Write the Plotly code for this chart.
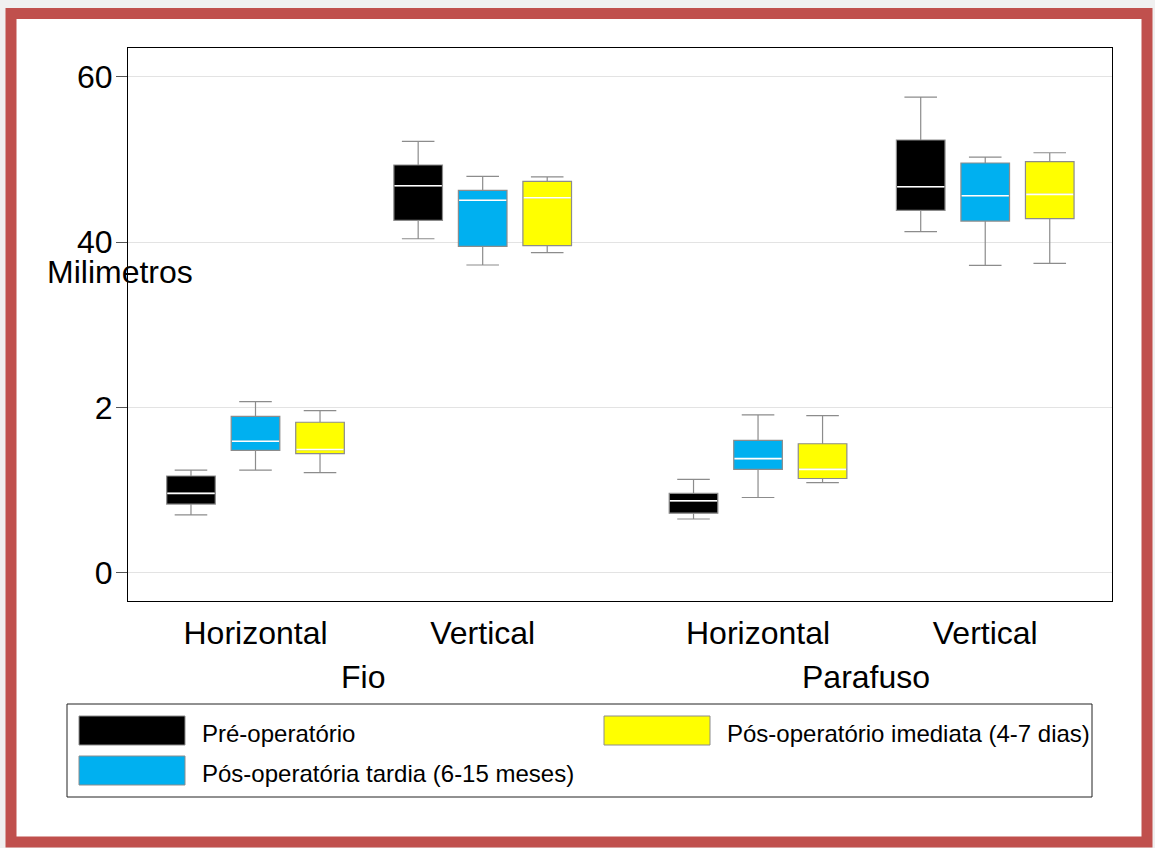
import plotly.graph_objects as go

# ---------------- data ----------------
categories = ["Horizontal", "Vertical", "Horizontal", "Vertical"]
groups = ["Fio", "Parafuso"]
cat_positions = [1.0, 2.0, 3.212, 4.212]
group_positions = [1.5, 3.712]

series_names = ["Pré-operatório",
                "Pós-operatória tardia (6-15 meses)",
                "Pós-operatório imediata (4-7 dias)"]
series_colors = ["#000000", "#00B0F0", "#FFFF00"]

# values in mm, one per category (Fio H, Fio V, Parafuso H, Parafuso V)
pre_lower = [0.70, 40.40, 0.65, 41.25]
pre_q1 = [0.83, 42.63, 0.72, 43.84]
pre_median = [0.96, 46.81, 0.87, 46.69]
pre_q3 = [1.17, 49.32, 0.96, 52.34]
pre_upper = [1.24, 52.18, 1.13, 57.54]

late_lower = [1.24, 37.22, 0.91, 37.18]
late_q1 = [1.48, 39.48, 1.25, 42.54]
late_median = [1.59, 45.05, 1.38, 45.60]
late_q3 = [1.89, 46.26, 1.60, 49.56]
late_upper = [2.07, 47.95, 1.91, 50.28]

imm_lower = [1.21, 38.71, 1.09, 37.43]
imm_q1 = [1.44, 39.56, 1.14, 42.82]
imm_median = [1.49, 45.36, 1.25, 45.77]
imm_q3 = [1.82, 47.34, 1.56, 49.72]
imm_upper = [1.96, 47.87, 1.90, 50.80]

# vertical measures are drawn at 1/10 scale (axis labelled 40, 60)
cat_scale = [1, 10, 1, 10]
y_tickvals = [0, 2, 4, 6]
y_ticktext = ["0", "2", "40", "60"]
y_title = "Milimetros"

series_stats = [
    (pre_lower, pre_q1, pre_median, pre_q3, pre_upper),
    (late_lower, late_q1, late_median, late_q3, late_upper),
    (imm_lower, imm_q1, imm_median, imm_q3, imm_upper),
]

# ---------------- layout constants ----------------
W, H = 1155, 848
PL, PR, PT, PB = 128, 1112, 48, 601
FONT = "Arial, Liberation Sans, sans-serif"
offsets = [-0.284, 0.0, 0.284]
box_width = 0.214


def px(xp):
    return (xp - PL) / (PR - PL)


def py(yp):
    return (PB - yp) / (PB - PT)


def scaled(vals):
    return [v / s for v, s in zip(vals, cat_scale)]


fig = go.Figure()

for i, (stats, color) in enumerate(zip(series_stats, series_colors)):
    lo, q1, med, q3, up = stats
    xs = [p + offsets[i] for p in cat_positions]
    fig.add_trace(go.Box(
        x=xs, q1=scaled(q1), median=scaled(med), q3=scaled(q3),
        lowerfence=scaled(lo), upperfence=scaled(up),
        width=box_width, whiskerwidth=0.67,
        fillcolor=color, line=dict(color="#8c8c8c", width=1.2),
        name=series_names[i], showlegend=False, hoverinfo="skip",
    ))
    # white median line
    fig.add_trace(go.Box(
        x=xs, q1=scaled(med), median=scaled(med), q3=scaled(med),
        lowerfence=scaled(med), upperfence=scaled(med),
        width=box_width * 0.97, whiskerwidth=0,
        fillcolor="rgba(0,0,0,0)", line=dict(color="#ffffff", width=1.6),
        showlegend=False, hoverinfo="skip",
    ))

shapes = []
# outer red frame
shapes.append(dict(type="rect", xref="paper", yref="paper",
                   x0=px(11), x1=px(1147), y0=py(13.5), y1=py(842),
                   line=dict(color="#C0504D", width=11), fillcolor="#ffffff",
                   layer="below"))
# legend box
shapes.append(dict(type="rect", xref="paper", yref="paper",
                   x0=px(67), x1=px(1092), y0=py(704), y1=py(797),
                   line=dict(color="#222222", width=1), fillcolor="#ffffff"))

annotations = []
leg_cols = [79, 604]
leg_rows = [716, 756]
leg_slots = [(0, 0), (0, 1), (1, 0)]
sw_w, sw_h = 106, 29
for name, color, (c, r) in zip(series_names, series_colors, leg_slots):
    x0 = leg_cols[c]
    y0 = leg_rows[r]
    shapes.append(dict(type="rect", xref="paper", yref="paper",
                       x0=px(x0), x1=px(x0 + sw_w), y0=py(y0), y1=py(y0 + sw_h),
                       line=dict(color="#8c8c8c", width=1), fillcolor=color))
    annotations.append(dict(xref="paper", yref="paper", x=px(x0 + 121), y=py(y0 + 17),
                            xanchor="left", yanchor="middle", showarrow=False,
                            text=name, font=dict(family=FONT, size=24, color="#000")))

for g, gp in zip(groups, group_positions):
    annotations.append(dict(xref="x", yref="paper", x=gp, y=py(677), xshift=-6,
                            xanchor="center", yanchor="middle", showarrow=False,
                            text=g, font=dict(family=FONT, size=32, color="#000")))

annotations.append(dict(xref="paper", yref="paper", x=px(45), y=py(272),
                        xanchor="left", yanchor="middle", showarrow=False,
                        text=y_title, font=dict(family=FONT, size=32, color="#000")))

fig.update_layout(
    width=W, height=H,
    margin=dict(l=PL, r=W - PR, t=PT, b=H - PB),
    paper_bgcolor="#f0f0f0", plot_bgcolor="#ffffff",
    boxmode="overlay",
    font=dict(family=FONT, size=32, color="#000"),
    shapes=shapes, annotations=annotations,
    xaxis=dict(range=[0.4388, 4.770], tickvals=cat_positions, ticktext=categories,
               ticks="", showgrid=False, zeroline=False, ticklabelstandoff=4,
               showline=True, linecolor="#000", linewidth=1, mirror=True,
               tickfont=dict(family=FONT, size=32, color="#000")),
    yaxis=dict(range=[-0.342, 6.347], tickvals=y_tickvals, ticktext=y_ticktext,
               ticks="outside", ticklen=11, tickcolor="#555555", tickwidth=1,
               ticklabelstandoff=-3,
               showgrid=True, gridcolor="#e3e3e3", gridwidth=1, zeroline=False,
               showline=True, linecolor="#000", linewidth=1, mirror=True,
               tickfont=dict(family=FONT, size=32, color="#000")),
)

fig.write_html("out.html", config={"displayModeBar": False},
               post_script="document.body.style.margin='0';")
